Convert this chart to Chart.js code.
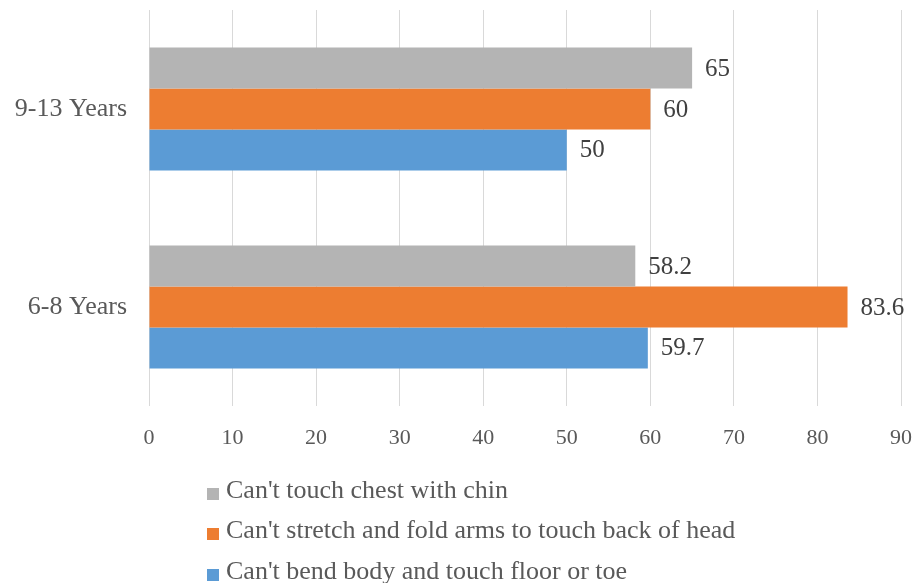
<!DOCTYPE html>
<html>
<head>
<meta charset="utf-8">
<script src="https://cdn.jsdelivr.net/npm/chart.js@4"></script>
<style>
  html, body { margin: 0; padding: 0; background: #fff; }
  #wrap { position: relative; width: 919px; height: 583px; }
  canvas { display: block; }
  #legend { position: absolute; left: 207px; top: 0; font-family: "Liberation Serif", "Times New Roman", serif; color: #595959; font-size: 26px; }
  .item { position: absolute; left: 0; white-space: nowrap; }
  .box { position: absolute; left: 0; width: 12px; height: 12px; }
  .txt { position: absolute; left: 19px; }
</style>
</head>
<body>
<div id="wrap">
  <canvas id="chart" width="919" height="583"></canvas>
  <div id="legend"></div>
</div>
<script>
const categories = ['9-13 Years', '6-8 Years'];
const seriesNames = [
    "Can't touch chest with chin",
    "Can't stretch and fold arms to touch back of head",
    "Can't bend body and touch floor or toe"
];
const chinValues = [65, 58.2];
const armsValues = [60, 83.6];
const bendValues = [50, 59.7];
const xTicks = [0, 10, 20, 30, 40, 50, 60, 70, 80, 90];

const colors = ['#B4B4B4', '#ED7D31', '#5B9BD5'];
const serif = '"Liberation Serif", "Times New Roman", serif';

// value labels at the end of each bar
const valueLabels = {
    id: 'valueLabels',
    afterDatasetsDraw(chart) {
        const ctx = chart.ctx;
        ctx.save();
        ctx.font = '25px ' + serif;
        ctx.fillStyle = '#404040';
        ctx.textAlign = 'left';
        ctx.textBaseline = 'middle';
        chart.data.datasets.forEach((ds, i) => {
            chart.getDatasetMeta(i).data.forEach((bar, j) => {
                ctx.fillText(String(ds.data[j]), bar.x + 13, bar.y + 1);
            });
        });
        ctx.restore();
    }
};

const ctx = document.getElementById('chart').getContext('2d');
const chart = new Chart(ctx, {
    type: 'bar',
    data: {
        labels: categories,
        datasets: [
            { label: seriesNames[0], data: chinValues, backgroundColor: colors[0] },
            { label: seriesNames[1], data: armsValues, backgroundColor: colors[1] },
            { label: seriesNames[2], data: bendValues, backgroundColor: colors[2] }
        ]
    },
    options: {
        indexAxis: 'y',
        responsive: false,
        animation: false,
        layout: { padding: { left: 0, right: 18, top: 10, bottom: 117 } },
        datasets: { bar: { barPercentage: 1, categoryPercentage: 0.62 } },
        plugins: {
            legend: { display: false },
            tooltip: { enabled: false }
        },
        scales: {
            x: {
                min: 0,
                max: 90,
                afterBuildTicks: axis => { axis.ticks = xTicks.map(v => ({ value: v })); },
                afterFit: axis => {
                    axis.height = 60;
                    axis.paddingLeft = 0;
                    axis.paddingRight = 0;
                },
                grid: { color: '#D9D9D9', lineWidth: 1, drawTicks: false },
                border: { display: false },
                ticks: { color: '#595959', font: { family: serif, size: 22 }, padding: 19 }
            },
            y: {
                afterFit: axis => {
                    axis.width = 149;
                    axis.paddingTop = 0;
                    axis.paddingBottom = 0;
                },
                grid: { display: false, drawTicks: false },
                border: { display: false },
                ticks: { color: '#595959', font: { family: serif, size: 26 }, padding: 22 }
            }
        }
    },
    plugins: [valueLabels]
});

// legend, one entry per line
const legend = document.getElementById('legend');
const rowTops = [475, 515, 556];
seriesNames.forEach((name, i) => {
    const item = document.createElement('div');
    item.className = 'item';
    item.style.top = rowTops[i] + 'px';
    item.innerHTML = '<span class="box" style="background:' + colors[i] + ';top:13px"></span>' +
        '<span class="txt"></span>';
    item.querySelector('.txt').textContent = name;
    legend.appendChild(item);
});
</script>
</body>
</html>
